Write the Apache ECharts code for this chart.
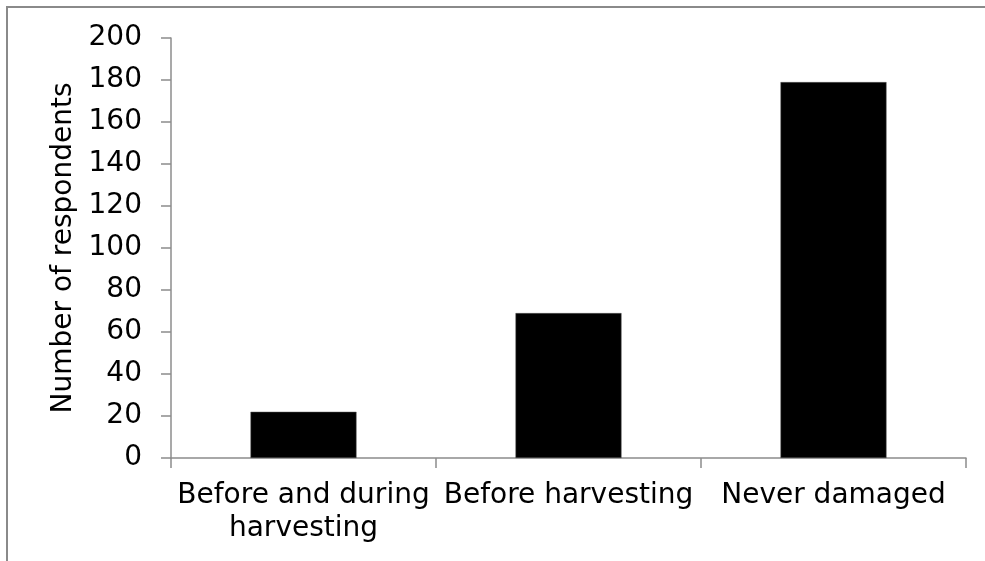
<!DOCTYPE html>
<html>
<head>
<meta charset="utf-8">
<script src="https://cdn.jsdelivr.net/npm/echarts@6/dist/echarts.min.js"></script>
<style>
html,body{margin:0;padding:0;background:#fff;}
#chart{width:985px;height:561px;}
</style>
</head>
<body>
<div id="chart"></div>
<script>
const categories = ['Before and during\nharvesting', 'Before harvesting', 'Never damaged'];
const respondents = [22, 69, 179];
const yTicks = { min: 0, max: 200, interval: 20 };
const yTitle = 'Number of respondents';

const FONT = 'DejaVu Sans';
const chart = echarts.init(document.getElementById('chart'));
chart.setOption({
  animation: false,
  backgroundColor: '#ffffff',
  graphic: [{
    type: 'rect',
    shape: { x: 7, y: 7, width: 1100, height: 700 },
    style: { fill: 'none', stroke: '#8a8a8a', lineWidth: 2 },
    silent: true
  }],
  grid: { left: 171, right: 19, top: 38, bottom: 103, containLabel: false },
  xAxis: {
    type: 'category',
    data: categories,
    axisLine: { lineStyle: { color: '#8c8c8c', width: 1.5 } },
    axisTick: { show: true, alignWithLabel: false, length: 10, lineStyle: { color: '#8c8c8c', width: 1.5 } },
    axisLabel: { color: '#000', fontFamily: FONT, fontSize: 28, lineHeight: 33, margin: 21, interval: 0 },
    splitLine: { show: false }
  },
  yAxis: {
    type: 'value',
    min: yTicks.min, max: yTicks.max, interval: yTicks.interval,
    name: yTitle,
    nameLocation: 'middle',
    nameGap: 93,
    nameRotate: 90,
    nameTextStyle: { color: '#000', fontFamily: FONT, fontSize: 28 },
    axisLine: { show: true, lineStyle: { color: '#8c8c8c', width: 1.5 } },
    axisTick: { show: true, length: 10, lineStyle: { color: '#8c8c8c', width: 1.5 } },
    axisLabel: { color: '#000', fontFamily: FONT, fontSize: 28, margin: 29 },
    splitLine: { show: false }
  },
  series: [{
    type: 'bar',
    data: respondents,
    barCategoryGap: '60%',
    itemStyle: { color: '#000000', borderColor: '#555', borderWidth: 0.5 }
  }]
});
</script>
</body>
</html>
